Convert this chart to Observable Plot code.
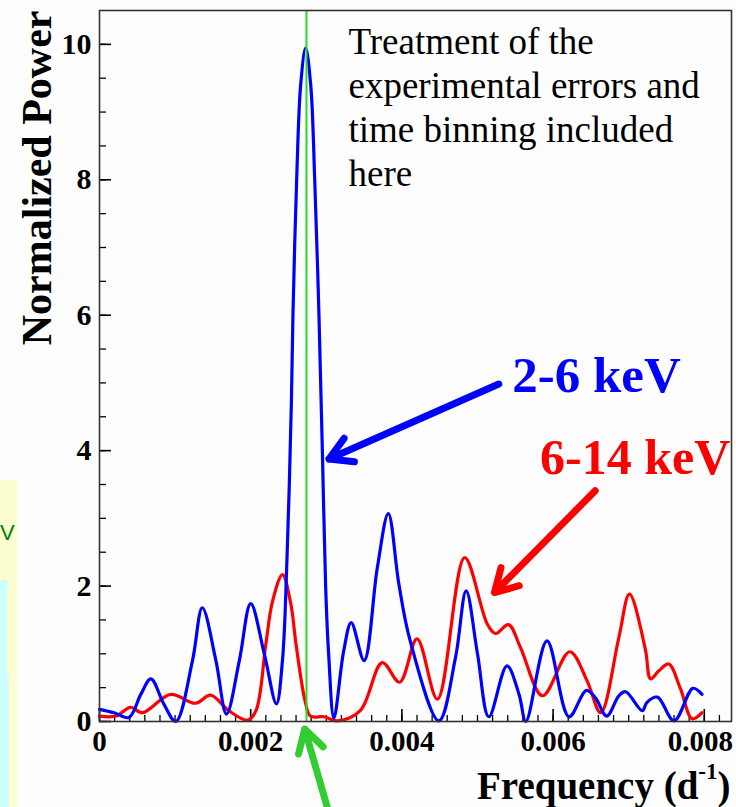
<!DOCTYPE html>
<html>
<head>
<meta charset="utf-8">
<script src="https://cdn.jsdelivr.net/npm/d3@7"></script>
<script src="https://cdn.jsdelivr.net/npm/@observablehq/plot@0.6"></script>
<style>
  html, body { margin: 0; padding: 0; background: #fdfdfd; }
  #chart { position: relative; width: 736px; height: 807px; overflow: hidden; }
</style>
</head>
<body>
<div id="chart"></div>
<script>
// ---- Data ----
const blueFreq = [0, 0.000193, 0.00039, 0.000546, 0.00068, 0.00085, 0.00101, 0.00123, 0.00136, 0.00154, 0.00168, 0.00185, 0.00200, 0.00218, 0.00234, 0.00242, 0.00248, 0.002538, 0.002559, 0.002608, 0.002661, 0.002727, 0.002794, 0.002847, 0.002903, 0.002948, 0.002991, 0.003031, 0.003101, 0.00323, 0.00333, 0.00350, 0.003675, 0.00382, 0.00396, 0.00411, 0.00449, 0.00471, 0.00485, 0.00500, 0.00515, 0.00539, 0.00555, 0.00564, 0.00592, 0.00621, 0.00644, 0.00656, 0.00671, 0.00687, 0.00696, 0.00718, 0.00724, 0.00738, 0.00760, 0.00785, 0.00797];
const bluePower = [0.18, 0.13, 0.06, 0.40, 0.63, 0.26, 0.0, 0.9, 1.68, 0.9, 0.11, 0.9, 1.74, 1.0, 0.26, 0.9, 2.4, 4.7, 6.0, 8.0, 9.4, 9.95, 9.4, 8.0, 6.0, 4.0, 2.0, 1.0, 0.05, 1.04, 1.46, 0.9, 2.27, 3.07, 2.03, 1.19, 0.01, 0.95, 1.93, 1.0, 0.07, 0.82, 0.4, 0.0, 1.19, 0.07, 0.46, 0.35, 0.08, 0.38, 0.44, 0.16, 0.28, 0.36, 0.01, 0.49, 0.40];

const redFreq = [0, 0.00022, 0.00041, 0.00057, 0.00094, 0.00127, 0.00147, 0.00171, 0.00196, 0.00207, 0.00220, 0.00229, 0.00242, 0.00253, 0.00260, 0.00272, 0.00279, 0.00297, 0.00315, 0.00345, 0.00374, 0.00397, 0.00420, 0.00447, 0.00483, 0.00513, 0.00524, 0.00541, 0.00557, 0.00586, 0.00622, 0.00645, 0.00663, 0.00687, 0.00701, 0.00722, 0.00729, 0.00740, 0.00753, 0.00768, 0.00784, 0.00797];
const redPower = [0.08, 0.08, 0.21, 0.13, 0.40, 0.27, 0.39, 0.16, 0.02, 0.16, 1.14, 1.78, 2.17, 1.74, 1.14, 0.30, 0.08, 0.07, 0.01, 0.16, 0.87, 0.58, 1.22, 0.33, 2.42, 1.44, 1.30, 1.43, 1.09, 0.38, 1.03, 0.60, 0.13, 1.24, 1.88, 1.07, 0.63, 0.75, 0.85, 0.50, 0.04, 0.13];

const seriesNames = ["2-6 keV", "6-14 keV"];
const seriesColors = ["#0000ff", "#ff0000"];

const xTicks = [0, 0.002, 0.004, 0.006, 0.008];
const xTickLabels = ["0", "0.002", "0.004", "0.006", "0.008"];
const yTicks = [0, 2, 4, 6, 8, 10];
const yTickLabels = ["0", "2", "4", "6", "8", "10"];
const xMinorStep = 0.0002;
const yMinorStep = 0.5;

const oneYearFreq = 0.002738; // 1 / 365.25 d

const xTitle = "Frequency (d-1)";
const yTitle = "Normalized Power";
const noteText = "Treatment of the\nexperimental errors and\ntime binning included\nhere";

// annotation arrows (data coordinates)
const arrowStartX = [0.005282, 0.006557, 0.003014];
const arrowStartY = [4.984, 3.408, -1.27];
const arrowEndX = [0.003035, 0.005225, 0.002714];
const arrowEndY = [3.876, 1.905, -0.112];
const arrowColors = ["#0000ff", "#ff0000", "#33cc33"];

// series labels (data coordinates)
const labelX = [0.005459, 0.008345];
const labelY = [4.86, 3.654];

// ---- Build ----
const W = 736, H = 807;
const mL = 99, mR = 5, mT = 10, mB = 86;
const xDomain = [0, 0.00836];
const yDomain = [0, 10.5];

const blue = blueFreq.map((f, i) => ({f, p: bluePower[i]}));
const red = redFreq.map((f, i) => ({f, p: redPower[i]}));
const arrows = arrowStartX.map((x1, i) => ({x1, y1: arrowStartY[i], x2: arrowEndX[i], y2: arrowEndY[i], c: arrowColors[i]}));

const xMinor = d3.range(0, xDomain[1], xMinorStep);
const yMinor = d3.range(0, yDomain[1], yMinorStep);

// tick lengths in px converted to data units
const pxPerX = (W - mL - mR) / (xDomain[1] - xDomain[0]);
const pxPerY = (H - mT - mB) / (yDomain[1] - yDomain[0]);
const xTickLen = (px) => px / pxPerY;
const yTickLen = (px) => px / pxPerX;

const serif = "'Liberation Serif', 'Times New Roman', serif";
const xLabelFmt = d => xTickLabels[xTicks.indexOf(d)];

const plot = Plot.plot({
  width: W,
  height: H,
  marginLeft: mL, marginRight: mR, marginTop: mT, marginBottom: mB,
  style: {fontFamily: serif, background: "transparent", color: "black"},
  x: {domain: xDomain},
  y: {domain: yDomain},
  marks: [
    // minor & major ticks (inward)
    Plot.ruleX(xMinor, {x: d => d, y1: 0, y2: xTickLen(6), stroke: "black", strokeWidth: 1.3}),
    Plot.ruleX(xTicks, {x: d => d, y1: 0, y2: xTickLen(12), stroke: "black", strokeWidth: 1.6}),
    Plot.ruleY(yMinor, {y: d => d, x1: 0, x2: yTickLen(7), stroke: "black", strokeWidth: 1.3}),
    Plot.ruleY(yTicks, {y: d => d, x1: 0, x2: yTickLen(12), stroke: "black", strokeWidth: 1.6}),
    // tick labels
    Plot.axisX({ticks: xTicks.slice(0, -1), tickSize: 0, tickPadding: 9, tickFormat: xLabelFmt, label: null, fontSize: 29, fontWeight: "bold"}),
    Plot.axisX({ticks: xTicks.slice(-1), tickSize: 0, tickPadding: 9, tickFormat: xLabelFmt, label: null, fontSize: 29, fontWeight: "bold", dx: -4}),
    Plot.axisY({ticks: yTicks, tickSize: 0, tickPadding: 8, tickFormat: d => yTickLabels[yTicks.indexOf(d)], label: null, fontSize: 30, fontWeight: "bold"}),
    // curves
    Plot.line(red, {x: "f", y: "p", stroke: seriesColors[1], strokeWidth: 3.2, curve: "catmull-rom"}),
    Plot.line(blue, {x: "f", y: "p", stroke: seriesColors[0], strokeWidth: 3.2, curve: "catmull-rom"}),
    // one-year line
    Plot.ruleX([oneYearFreq], {stroke: "#22dd22", strokeWidth: 2}),
    Plot.frame({stroke: "#333", strokeWidth: 1.6}),
    // arrows
    Plot.arrow(arrows, {x1: "x1", y1: "y1", x2: "x2", y2: "y2", stroke: "c", strokeWidth: 7, headLength: 5.5, headAngle: 60}),
    // series labels
    Plot.text([seriesNames[0]], {x: labelX[0], y: labelY[0], fill: seriesColors[0], textAnchor: "start", lineAnchor: "bottom", fontSize: 51, fontWeight: "bold"}),
    Plot.text([seriesNames[1]], {x: labelX[1], y: labelY[1], fill: seriesColors[1], textAnchor: "end", lineAnchor: "bottom", fontSize: 50, fontWeight: "bold"}),
    // note
    Plot.text([noteText], {frameAnchor: "top-left", dx: 249, dy: 12, textAnchor: "start", lineAnchor: "top", fontSize: 37, lineHeight: 1.19, fill: "black"}),
    // axis titles
    Plot.text([yTitle], {frameAnchor: "top-left", dx: -62, dy: 0, rotate: -90, textAnchor: "end", lineAnchor: "middle", fontSize: 42, fontWeight: "bold", fill: "black"}),
    Plot.text([xTitle], {frameAnchor: "bottom-right", dx: -1, dy: 77, textAnchor: "end", lineAnchor: "bottom", fontSize: 39, fontWeight: "bold", fill: "black"})
  ]
});

const svg = d3.select(plot);

// superscript on the x title
svg.selectAll("text").filter(function () { return this.textContent === xTitle; }).each(function () {
  const t = d3.select(this);
  t.text(null);
  t.append("tspan").text("Frequency (d");
  t.append("tspan").attr("dy", "-20").attr("font-size", "23").text("-1");
  t.append("tspan").attr("dy", "20").text(")");
});

// slide fragments at the left edge
const deco = svg.insert("g", ":first-child");
deco.append("rect").attr("x", 0).attr("y", 480).attr("width", 17).attr("height", 327).attr("fill", "#fbfdd0");
deco.append("rect").attr("x", 0).attr("y", 580).attr("width", 7).attr("height", 95).attr("fill", "#ccffff");
deco.append("rect").attr("x", 0).attr("y", 675).attr("width", 9).attr("height", 132).attr("fill", "#ccffff");
deco.append("text").attr("x", 0).attr("y", 540).attr("text-anchor", "start").attr("font-family", "'Liberation Sans', Arial, sans-serif").attr("font-size", 22).attr("fill", "#008000").text("V");

document.getElementById("chart").appendChild(plot);
</script>
</body>
</html>
